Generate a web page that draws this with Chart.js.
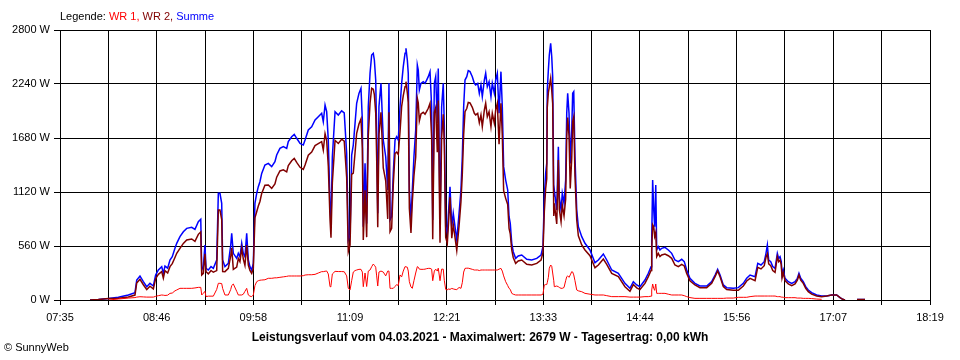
<!DOCTYPE html>
<html>
<head>
<meta charset="utf-8">
<title>SunnyWeb Leistungsverlauf</title>
<script src="https://cdn.jsdelivr.net/npm/chart.js@4.4.1/dist/chart.umd.min.js"></script>
<style>
  body { margin: 0; background: #fff; }
  #wrap { position: relative; width: 960px; height: 360px; font-family: 'Liberation Sans', Arial, sans-serif; font-size: 11px; color: #000; }
  #chartBox { position: absolute; left: 0; top: 0; width: 960px; height: 360px; }
  #legend { position: absolute; left: 60px; top: 10px; line-height: 13px; white-space: nowrap; }
  #title { position: absolute; left: 0; top: 330px; width: 960px; text-align: center; font-weight: bold; font-size: 12px; line-height: 14px; }
  #credit { position: absolute; left: 4px; top: 341px; font-size: 11px; line-height: 13px; }
</style>
</head>
<body>
<div id="wrap">
  <div id="chartBox"><canvas id="powerChart"></canvas></div>
  <div id="legend">Legende: <span style="color:#ff0000">WR 1,</span> <span style="color:#800000">WR 2,</span> <span style="color:#0000ff">Summe</span></div>
  <div id="title">Leistungsverlauf vom 04.03.2021 - Maximalwert: 2679 W - Tagesertrag: 0,00 kWh</div>
  <div id="credit">&copy; SunnyWeb</div>
</div>
<script>
// time of day in minutes since midnight
const times = [
  477.2, 483.4, 490.8, 498.2, 505.6, 510.5, 511.8, 514.2, 516.7, 519.2,
  521.6, 524.1, 525.8, 527.8, 530.3, 531.5, 532.7, 534.7, 536.4, 538.1,
  540.1, 541.4, 543.8, 546.3, 548.8, 552.5, 554.9, 557.4, 559.2, 559.9,
  561.1, 562.3, 563.1, 564.8, 566.8, 568.5, 571.0, 572.2, 573.4, 574.7,
  575.4, 577.1, 579.6, 581.4, 582.1, 583.3, 585.8, 587.0, 588.2, 589.5,
  590.7, 591.9, 593.2, 594.4, 595.6, 596.9, 598.1, 599.3, 600.6, 601.8,
  603.0,
  604.3, 606.7, 609.2, 611.7, 614.1, 615.4, 617.8, 620.3, 622.8, 624.0,
  626.5, 628.4, 630.2, 632.7, 635.1, 636.4, 638.8, 641.3, 643.8, 646.2,
  648.7, 649.9, 651.2, 652.4, 653.6, 654.9, 655.6, 656.6, 658.6, 661.0,
  663.5, 665.4, 667.2, 668.4, 669.7, 670.9, 672.1, 673.4, 674.6, 676.3,
  677.8, 678.8, 679.5, 680.8, 682.0, 683.2, 684.5, 685.7, 686.9, 687.7,
  688.7, 689.4, 690.2, 691.1, 692.6, 694.3, 696.1, 697.6, 698.5,
  699.3, 700.5, 701.7, 703.0, 704.2, 705.4, 706.7, 707.9, 709.1, 710.4,
  711.1, 712.1, 712.8, 713.6, 714.8, 715.8, 717.0, 718.3, 719.5, 720.2,
  721.0, 722.2, 723.9, 725.2, 726.4, 727.6, 728.9, 730.1, 730.9, 732.1,
  733.1, 734.3, 735.0, 736.3, 737.5, 738.7, 739.5, 740.5, 741.7, 742.4,
  743.7, 745.0, 746.1, 747.4, 748.7, 750.4, 751.8, 752.8, 753.8, 754.8,
  756.1, 757.2, 758.5, 760.2, 761.7, 762.7, 764.2, 765.4, 766.6, 767.6,
  769.1, 770.1, 771.3, 772.6, 774.0, 775.0, 776.5, 777.5, 778.7, 780.0,
  781.4, 782.4, 783.4, 784.9, 786.4, 787.4, 788.3, 789.4, 790.5, 792.3,
  794.2,
  796.8, 800.5, 804.2, 807.9, 811.1, 812.5, 813.5, 814.5, 815.3, 815.7,
  816.5, 817.2, 818.2, 819.0, 819.7, 820.5, 820.9, 822.7, 823.9, 824.6,
  825.9, 826.8, 828.1, 829.3, 830.1, 830.8, 831.8, 832.7, 833.8, 834.5,
  835.3, 836.2, 837.5, 838.7, 841.2, 843.6, 847.3, 851.0, 853.5, 857.2,
  859.7, 863.4, 868.3, 873.2, 876.9, 879.4, 881.9, 884.3, 888.0,
  890.5, 892.5, 893.0, 893.7, 894.5, 895.2, 896.0, 896.7, 897.9, 899.1,
  900.4, 902.8, 905.3, 907.8, 910.2, 912.7, 915.2, 917.1, 918.9, 921.3,
  925.0, 928.7, 933.7, 937.4, 939.9, 941.8, 943.6, 946.0, 948.5, 953.4,
  957.1, 960.8, 963.3, 965.8, 969.5, 971.5, 973.9, 976.3,
  977.6, 978.6, 979.6, 981.1, 982.6, 984.3, 986.0, 987.0, 988.0, 988.9,
  989.5, 990.4, 991.7, 994.1, 996.6, 999.1, 1000.8, 1002.0, 1003.3, 1005.2,
  1007.0, 1008.9, 1011.4, 1015.1, 1018.8, 1022.5, 1026.2, 1029.9, 1032.4, 1034.4,
  1036.1, 1040.0, 1045.0, 1050.9
];

// WR 1 (W)
const wr1 = [
  null, null, 0, 10, 20, 25, 30, 34, 32, 30,
  30, 30, 38, 45, 52, 50, 47, 50, 69, 72,
  95, 104, 121, 121, 121, 121, 125, 131, 131, 52,
  70, 90, 35, 40, 40, 40, 110, 173, 173, 170,
  120, 52, 52, 110, 150, 166, 90, 52, 52, 52,
  60, 90, 121, 52, 40, 35, 52, 150, 190, 200,
  205,
  207, 210, 225, 225, 230, 230, 235, 240, 245, 249,
  249, 249, 249, 249, 252, 259, 262, 262, 266, 280,
  294, 294, 298, 301, 270, 138, 150, 270, 297, 295,
  295, 293, 250, 121, 104, 200, 290, 305, 311, 318,
  318, 290, 138, 280, 140, 300, 311, 345, 373, 360,
  340, 250, 145, 290, 300, 290, 250, 300, 300,
  121, 121, 121, 140, 160, 150, 260, 240, 300, 346,
  346, 340, 300, 190, 135, 121, 200, 280, 346, 340,
  320, 318, 318, 320, 325, 328, 328, 320, 200, 300,
  320, 300, 330, 200, 320, 320, 200, 110, 104, 115,
  110, 120, 115, 110, 108, 130, 121, 180, 290, 328,
  330, 330, 325, 318, 311, 311, 311, 305, 311, 311,
  311, 311, 311, 311, 311, 311, 311, 311, 311, 320,
  328, 300, 250, 190, 150, 121, 110, 69, 60, 52,
  52,
  52, 52, 52, 52, 52, 60, 156, 160, 160, 180,
  235, 330, 363, 350, 280, 200, 138, 145, 138, 130,
  121, 121, 130, 200, 242, 250, 235, 260, 294, 290,
  260, 200, 104, 95, 86, 69, 60, 52, 52, 52,
  45, 35, 35, 35, 30, 30, 30, 30, 35,
  35, 40, 104, 166, 120, 100, 166, 69, 69, 69,
  69, 69, 60, 52, 52, 52, 52, 45, 35, 25,
  17, 17, 17, 17, 17, 17, 17, 17, 20, 20,
  28, 28, 28, 35, 41, 41, 41, 41,
  41, 41, 41, 41, 41, 41, 35, 35, 35, 30,
  30, 28, 24, 24, 24, 24, 20, 20, 20, 17,
  17, 17, 15, 10, 7, null, null, null, null, null,
  null, null, null, null
];

// WR 2 (W)
const wr2 = [
  0, 5, 15, 18, 32, 51, 177, 215, 158, 108,
  143, 115, 221, 266, 294, 227, 305, 280, 346, 377,
  441, 484, 536, 587, 622, 633, 608, 681, 706, 259,
  276, 480, 293, 271, 306, 288, 305, 933, 933, 833,
  295, 294, 328, 460, 541, 318, 342, 432, 397, 536,
  424, 359, 570, 363, 306, 276, 328, 853, 916, 975,
  1022,
  1106, 1190, 1192, 1158, 1204, 1274, 1338, 1350, 1328, 1393,
  1444, 1468, 1428, 1376, 1355, 1400, 1501, 1535, 1601, 1621,
  1642, 1555, 1724, 1652, 1389, 829, 645, 1216, 1656, 1623,
  1667, 1647, 1271, 501, 570, 1303, 1317, 1527, 1729, 1825,
  1877, 1577, 622, 1137, 652, 1705, 2040, 2196, 2185, 2129,
  1941, 1479, 754, 1715, 1947, 1369, 1236, 841, 1947,
  709, 743, 1193, 1519, 1533, 1509, 1745, 2007, 2120, 2212,
  2264, 2149, 2050, 951, 695, 1020, 1286, 1483, 2091, 2045,
  1858, 1929, 1946, 1927, 1956, 1988, 2040, 1685, 630, 1947,
  1996, 1532, 2070, 595, 1685, 1927, 1597, 650, 588, 749,
  1065, 640, 784, 650, 514, 769, 1020, 1306, 1715, 1953,
  1986, 2048, 2043, 1998, 1936, 1919, 1936, 1838, 1919, 1798,
  1970, 2040, 1901, 1953, 1798, 1936, 1832, 1970, 2040, 1616,
  2040, 1705, 1133, 1054, 991, 743, 685, 519, 441, 380,
  404,
  415, 370, 363, 380, 415, 493, 915, 1154, 1257, 1998,
  2150, 2211, 2299, 2173, 2036, 871, 1003, 788, 1452, 941,
  812, 985, 873, 1044, 1694, 1893, 1701, 1157, 1469, 1853,
  1900, 1286, 829, 665, 571, 519, 459, 335, 363, 425,
  370, 276, 242, 138, 91, 160, 126, 108, 172,
  242, 306, 518, 780, 760, 660, 700, 450, 484, 450,
  467, 477, 459, 432, 363, 346, 370, 353, 276, 200,
  156, 128, 128, 173, 242, 301, 242, 139, 108, 101,
  100, 145, 197, 224, 201, 339, 322, 356,
  443, 480, 374, 356, 305, 287, 449, 397, 414, 367,
  229, 283, 201, 166, 149, 166, 205, 257, 205, 173,
  121, 87, 61, 42, 34, 41, 52, 52, 24, 7,
  0, null, 5, 5
];

// Summe (W)
const summe = [
  0, 5, 15, 28, 52, 76, 207, 249, 190, 138,
  173, 145, 259, 311, 346, 277, 352, 330, 415, 449,
  536, 588, 657, 708, 743, 754, 733, 812, 837, 311,
  346, 570, 328, 311, 346, 328, 415, 1106, 1106, 1003,
  415, 346, 380, 570, 691, 484, 432, 484, 449, 588,
  484, 449, 691, 415, 346, 311, 380, 1003, 1106, 1175,
  1227,
  1313, 1400, 1417, 1383, 1434, 1504, 1573, 1590, 1573, 1642,
  1693, 1717, 1677, 1625, 1607, 1659, 1763, 1797, 1867, 1901,
  1936, 1849, 2022, 1953, 1659, 967, 795, 1486, 1953, 1918,
  1962, 1940, 1521, 622, 674, 1503, 1607, 1832, 2040, 2143,
  2195, 1867, 760, 1417, 792, 2005, 2351, 2541, 2558, 2489,
  2281, 1729, 899, 2005, 2247, 1659, 1486, 1141, 2247,
  830, 864, 1314, 1659, 1693, 1659, 2005, 2247, 2420, 2558,
  2610, 2489, 2350, 1141, 830, 1141, 1486, 1763, 2437, 2385,
  2178, 2247, 2264, 2247, 2281, 2316, 2368, 2005, 830, 2247,
  2316, 1832, 2400, 795, 2005, 2247, 1797, 760, 692, 864,
  1175, 760, 899, 760, 622, 899, 1141, 1486, 2005, 2281,
  2316, 2378, 2368, 2316, 2247, 2230, 2247, 2143, 2230, 2109,
  2281, 2351, 2212, 2264, 2109, 2247, 2143, 2281, 2351, 1936,
  2368, 2005, 1383, 1244, 1141, 864, 795, 588, 501, 432,
  456,
  467, 422, 415, 432, 467, 553, 1071, 1314, 1417, 2178,
  2385, 2541, 2662, 2523, 2316, 1071, 1141, 933, 1590, 1071,
  933, 1106, 1003, 1244, 1936, 2143, 1936, 1417, 1763, 2143,
  2160, 1486, 933, 760, 657, 588, 519, 387, 415, 477,
  415, 311, 277, 173, 121, 190, 156, 138, 207,
  277, 346, 622, 1244, 933, 760, 1193, 519, 553, 519,
  536, 546, 519, 484, 415, 398, 422, 398, 311, 225,
  173, 145, 145, 190, 259, 318, 259, 156, 128, 121,
  128, 173, 225, 259, 242, 380, 363, 397,
  484, 570, 415, 397, 346, 328, 484, 432, 449, 397,
  259, 311, 225, 190, 173, 190, 225, 277, 225, 190,
  138, 104, 76, 52, 41, 41, 52, 52, 24, 7,
  0, null, 5, 5
];

// axis labels
const xLabels = ['07:35', '08:46', '09:58', '11:09', '12:21', '13:33', '14:44', '15:56', '17:07', '18:19'];
const xStart = 455;   // 07:35
const xEnd = 1099;    // 18:19
const xSteps = 18;
const yMax = 2800;
const yStep = 560;

Chart.defaults.font.family = "'Liberation Sans', Arial, sans-serif";
Chart.defaults.font.size = 11;
Chart.defaults.color = '#000';

const toPoints = (vals) => times.map((t, i) => ({ x: t, y: vals[i] }));

const ctx = document.getElementById('powerChart').getContext('2d');
new Chart(ctx, {
  type: 'line',
  data: {
    datasets: [
      { label: 'WR 1', data: toPoints(wr1), borderColor: '#ff0000', borderWidth: 1 },
      { label: 'WR 2', data: toPoints(wr2), borderColor: '#800000', borderWidth: 1.5 },
      { label: 'Summe', data: toPoints(summe), borderColor: '#0000ff', borderWidth: 1.5 }
    ]
  },
  options: {
    responsive: true,
    maintainAspectRatio: false,
    animation: false,
    parsing: false,
    normalized: true,
    spanGaps: false,
    elements: {
      point: { radius: 0, hoverRadius: 0 },
      line: { tension: 0, fill: false }
    },
    layout: { padding: { top: 30, right: 30, left: 0, bottom: 0 } },
    plugins: {
      legend: { display: false },
      title: { display: false },
      tooltip: { enabled: false }
    },
    scales: {
      x: {
        type: 'linear',
        min: xStart,
        max: xEnd,
        afterBuildTicks: (axis) => {
          const ticks = [];
          for (let i = 0; i <= xSteps; i++) {
            ticks.push({ value: i === xSteps ? xEnd : xStart + i * (xEnd - xStart) / xSteps });
          }
          axis.ticks = ticks;
        },
        afterFit: (axis) => { axis.height = 60; },
        ticks: {
          autoSkip: false,
          maxRotation: 0,
          padding: 6,
          callback: (v, i) => (i % 2 === 0 ? xLabels[i / 2] : '')
        },
        grid: { color: '#000', lineWidth: 1, tickLength: 5 },
        border: { color: '#000', width: 1 }
      },
      y: {
        min: 0,
        max: yMax,
        afterFit: (axis) => { axis.width = 60; },
        ticks: {
          stepSize: yStep,
          padding: 4,
          callback: (v) => v + ' W'
        },
        grid: { color: '#000', lineWidth: 1, tickLength: 6 },
        border: { color: '#000', width: 1 }
      }
    }
  }
});
</script>
</body>
</html>
